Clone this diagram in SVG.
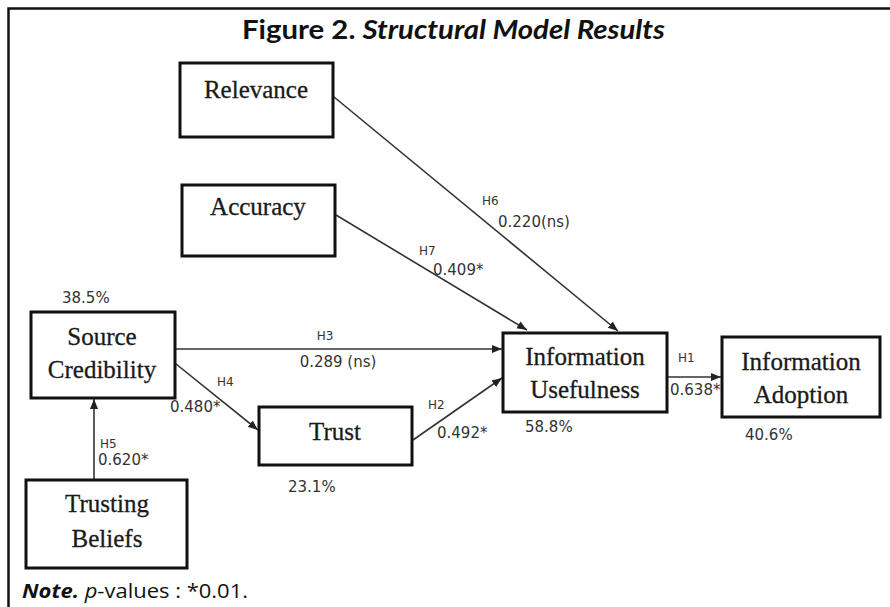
<svg xmlns="http://www.w3.org/2000/svg" width="890" height="607" viewBox="0 0 890 607">
<defs>
<marker id="arr" markerUnits="userSpaceOnUse" markerWidth="10" markerHeight="10" viewBox="0 0 10 10" refX="10" refY="5" orient="auto">
<path d="M0,1 L10,5 L0,9 Z" fill="#222"/>
</marker>
<style>
.box{fill:#fff;stroke:#111;stroke-width:3}
.nt{font-family:"Liberation Serif","Times New Roman",serif;font-size:25px;fill:#1a1a1a;text-anchor:middle;stroke:#1a1a1a;stroke-width:0.3}
.ed{stroke:#333;stroke-width:1.6;fill:none;marker-end:url(#arr)}
.h{font-family:"DejaVu Sans",Tahoma,sans-serif;font-size:12px;fill:#333}
.v{font-family:"DejaVu Sans",Tahoma,sans-serif;font-size:15px;fill:#333}
</style>
</defs>
<rect width="890" height="607" fill="#fff"/>
<path d="M8.5,607 V8.5 H890" fill="none" stroke="#111" stroke-width="2.5"/>
<text x="242" y="39" textLength="423" lengthAdjust="spacingAndGlyphs" font-family="Lato,'Open Sans',sans-serif" font-size="27" font-weight="bold" fill="#111">Figure 2. <tspan font-style="italic">Structural Model Results</tspan></text>

<g id="connectors">
<line class="ed" x1="334" y1="97" x2="618" y2="331"/>
<line class="ed" x1="336" y1="215" x2="527" y2="330"/>
<line class="ed" x1="176" y1="349" x2="502" y2="349"/>
<line class="ed" x1="176" y1="364" x2="258" y2="430"/>
<line class="ed" x1="413" y1="440" x2="502" y2="378"/>
<line class="ed" x1="94" y1="479" x2="94" y2="399"/>
<line class="ed" x1="668" y1="377" x2="721" y2="377"/>
<text class="h" x="482" y="205">H6</text>
<text class="v" x="498" y="227">0.220(ns)</text>
<text class="h" x="419" y="255">H7</text>
<text class="v" x="433" y="275">0.409*</text>
<text class="h" x="325" y="340" text-anchor="middle">H3</text>
<text class="v" x="338" y="367" text-anchor="middle">0.289 (ns)</text>
<text class="h" x="217" y="386">H4</text>
<text class="v" x="170" y="412">0.480*</text>
<text class="h" x="428" y="409">H2</text>
<text class="v" x="437" y="438">0.492*</text>
<text class="h" x="100" y="448">H5</text>
<text class="v" x="98" y="465">0.620*</text>
<text class="h" x="678" y="362">H1</text>
<text class="v" x="670" y="395">0.638*</text>
</g>

<g id="relevance">
<rect class="box" x="180" y="63" width="153" height="74"/>
<text class="nt" x="256" y="98">Relevance</text>
</g>
<g id="accuracy">
<rect class="box" x="182" y="185" width="153" height="71"/>
<text class="nt" x="258" y="215">Accuracy</text>
</g>
<g id="source-credibility">
<rect class="box" x="31" y="312" width="144" height="86"/>
<text class="nt" x="102" y="345">Source</text>
<text class="nt" x="102" y="378">Credibility</text>
<text class="v" x="62" y="303">38.5%</text>
</g>
<g id="trust">
<rect class="box" x="259" y="407" width="153" height="58"/>
<text class="nt" x="335" y="440">Trust</text>
<text class="v" x="288" y="492">23.1%</text>
</g>
<g id="trusting-beliefs">
<rect class="box" x="26" y="480" width="161" height="88"/>
<text class="nt" x="107" y="512">Trusting</text>
<text class="nt" x="107" y="547">Beliefs</text>
</g>
<g id="information-usefulness">
<rect class="box" x="503" y="333" width="164" height="79"/>
<text class="nt" x="585" y="365">Information</text>
<text class="nt" x="585" y="398">Usefulness</text>
<text class="v" x="525" y="432">58.8%</text>
</g>
<g id="information-adoption">
<rect class="box" x="722" y="337" width="158" height="80"/>
<text class="nt" x="801" y="370">Information</text>
<text class="nt" x="801" y="403">Adoption</text>
<text class="v" x="745" y="440">40.6%</text>
</g>

<text x="22" y="598" textLength="226" lengthAdjust="spacingAndGlyphs" font-family="'Open Sans',Lato,sans-serif" font-size="20" fill="#111"><tspan font-weight="bold" font-style="italic">Note.</tspan> <tspan font-style="italic">p</tspan>-values : *0.01.</text>
</svg>
